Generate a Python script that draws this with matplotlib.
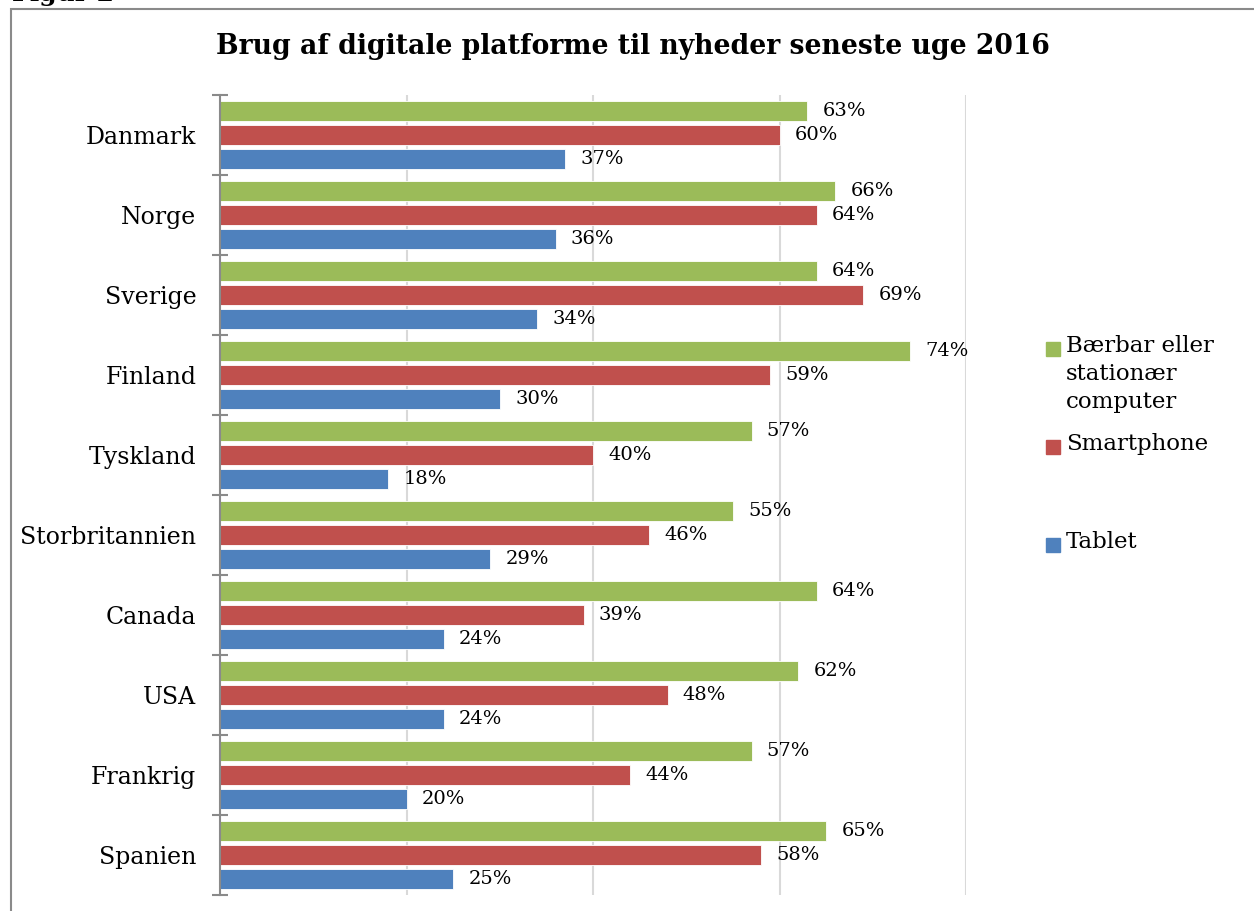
import matplotlib
matplotlib.use("Agg")
import matplotlib.pyplot as plt
from matplotlib.patches import Rectangle
import numpy as np

plt.rcParams['font.family'] = ['DejaVu Serif']

countries = ["Danmark", "Norge", "Sverige", "Finland", "Tyskland",
             "Storbritannien", "Canada", "USA", "Frankrig", "Spanien"]
computer = [63, 66, 64, 74, 57, 55, 64, 62, 57, 65]
smartphone = [60, 64, 69, 59, 40, 46, 39, 48, 44, 58]
tablet = [37, 36, 34, 30, 18, 29, 24, 24, 20, 25]
series_names = ["Bærbar eller\nstationær\ncomputer", "Smartphone", "Tablet"]
colors = ["#9BBB59", "#C0504D", "#4F81BD"]
title = "Brug af digitale platforme til nyheder seneste uge 2016"

W, H = 1254, 911
fig = plt.figure(figsize=(W / 100, H / 100), dpi=100)

# outer frame
fig.add_artist(Rectangle((11 / W, -0.05), 1.2, 1 - 9 / H + 0.05,
                         transform=fig.transFigure, fill=False,
                         edgecolor="#8a8a8a", linewidth=1.5))
fig.text(12 / W, 1 - 1 / H, "Figur 2", fontsize=18, fontweight="bold",
         va="baseline", ha="left")

ax = fig.add_axes([220 / W, 1 - 895 / H, (966 - 220) / W, (895 - 95) / H])

n = len(countries)
y = np.arange(n)
bh = 0.24
offs = [-0.3, 0.0, 0.3]
data = [computer, smartphone, tablet]
for vals, off, c in zip(data, offs, colors):
    ax.barh(y + off, vals, height=bh, color=c, edgecolor="white",
            linewidth=0.6, zorder=3)
    for yy, v in zip(y + off, vals):
        ax.annotate(f"{v}%", xy=(v, yy), xytext=(11, 0),
                    textcoords="offset points", va="center", ha="left",
                    fontsize=14, zorder=4)

ax.set_xlim(0, 80)
ax.set_ylim(n - 0.5, -0.5)
ax.set_xticks([0, 20, 40, 60, 80])
ax.xaxis.grid(True, color="#d9d9d9", linewidth=1.5, zorder=0)
ax.tick_params(axis="x", length=0, labelbottom=False)
ax.set_yticks(y)
ax.set_yticklabels(countries, fontsize=17)
ax.set_yticks(np.arange(n + 1) - 0.5, minor=True)
ax.tick_params(axis="y", which="major", length=0, pad=17)
ax.tick_params(axis="y", which="minor", direction="inout", length=11,
               width=1.5, color="#8a8a8a")
for s in ["top", "right", "bottom"]:
    ax.spines[s].set_visible(False)
ax.spines["left"].set_color("#8a8a8a")
ax.spines["left"].set_linewidth(1.5)
ax.spines["left"].set_zorder(5)

fig.text(633 / W, 1 - 46 / H, title, fontsize=19.2, fontweight="bold",
         ha="center", va="center")

# legend
leg_y = [349, 447, 545]
for name, c, ly in zip(series_names, colors, leg_y):
    fig.add_artist(Rectangle((1046 / W, 1 - (ly + 7) / H), 14 / W, 14 / H,
                             transform=fig.transFigure, color=c))
    fig.text(1066 / W, 1 - (ly - 14) / H, name, fontsize=16.5, va="top",
             ha="left", linespacing=1.35)

fig.savefig("out.png", dpi=100)
